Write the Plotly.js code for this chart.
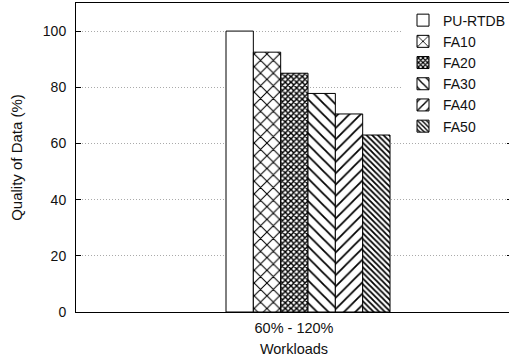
<!DOCTYPE html>
<html>
<head>
<meta charset="utf-8">
<script src="https://cdn.plot.ly/plotly-3.0.1.min.js"></script>
<style>
html,body{margin:0;padding:0;overflow:hidden;background:#fff;}
#chart{width:514px;height:360px;}
</style>
</head>
<body>
<div id="chart"></div>
<script>
var categories = ['60% - 120%'];
var seriesNames = ['PU-RTDB', 'FA10', 'FA20', 'FA30', 'FA40', 'FA50'];
var seriesValues = [[100], [92.5], [85], [77.8], [70.5], [63]];
var yTickVals = [0, 20, 40, 60, 80, 100];

var patterns = [
  {shape: '', fgcolor: 'black', bgcolor: 'white'},
  {shape: 'x', size: 9, solidity: 0.22, fgcolor: 'black', bgcolor: 'white'},
  {shape: 'x', size: 4, solidity: 0.6, fgcolor: 'black', bgcolor: 'white'},
  {shape: '\\', size: 8, solidity: 0.22, fgcolor: 'black', bgcolor: 'white'},
  {shape: '/', size: 8, solidity: 0.22, fgcolor: 'black', bgcolor: 'white'},
  {shape: '\\', size: 4, solidity: 0.45, fgcolor: 'black', bgcolor: 'white'}
];

var traces = seriesNames.map(function(name, i) {
  return {
    type: 'bar',
    name: name,
    x: categories,
    y: seriesValues[i],
    marker: {
      color: 'white',
      line: {color: 'black', width: 1},
      pattern: patterns[i]
    }
  };
});

var layout = {
  width: 514,
  height: 360,
  margin: {l: 76, r: 2, t: 3, b: 48},
  paper_bgcolor: 'white',
  plot_bgcolor: 'white',
  font: {family: 'Liberation Sans, Arial, sans-serif', color: '#111', size: 14},
  barmode: 'group',
  bargap: 0.2,
  bargroupgap: 0,
  showlegend: true,
  legend: {
    x: 0.75, y: 0.995, xanchor: 'left', yanchor: 'top',
    bgcolor: 'white', borderwidth: 0,
    font: {size: 14},
    tracegroupgap: 0
  },
  xaxis: {
    type: 'category',
    range: [-1.1317, 0.995],
    showline: true, linecolor: 'black', linewidth: 1, mirror: true,
    ticks: '', showgrid: false, zeroline: false,
    ticklabelshift: -14,
    ticklabelstandoff: 3,
    tickfont: {size: 14.5},
    title: {text: 'Workloads', font: {size: 14.5}, standoff: 8}
  },
  yaxis: {
    range: [0, 110],
    tickvals: yTickVals,
    showline: true, linecolor: 'black', linewidth: 1, mirror: 'ticks',
    ticks: 'inside', ticklen: 5, tickcolor: 'black',
    showgrid: true, gridcolor: '#aaa', griddash: '1px,2px', gridwidth: 1,
    zeroline: false,
    ticklabelstandoff: 6,
    tickfont: {size: 14},
    title: {text: 'Quality of Data (%)', font: {size: 15}, standoff: 16}
  }
};

Plotly.newPlot('chart', traces, layout, {displayModeBar: false, staticPlot: true});
</script>
</body>
</html>
